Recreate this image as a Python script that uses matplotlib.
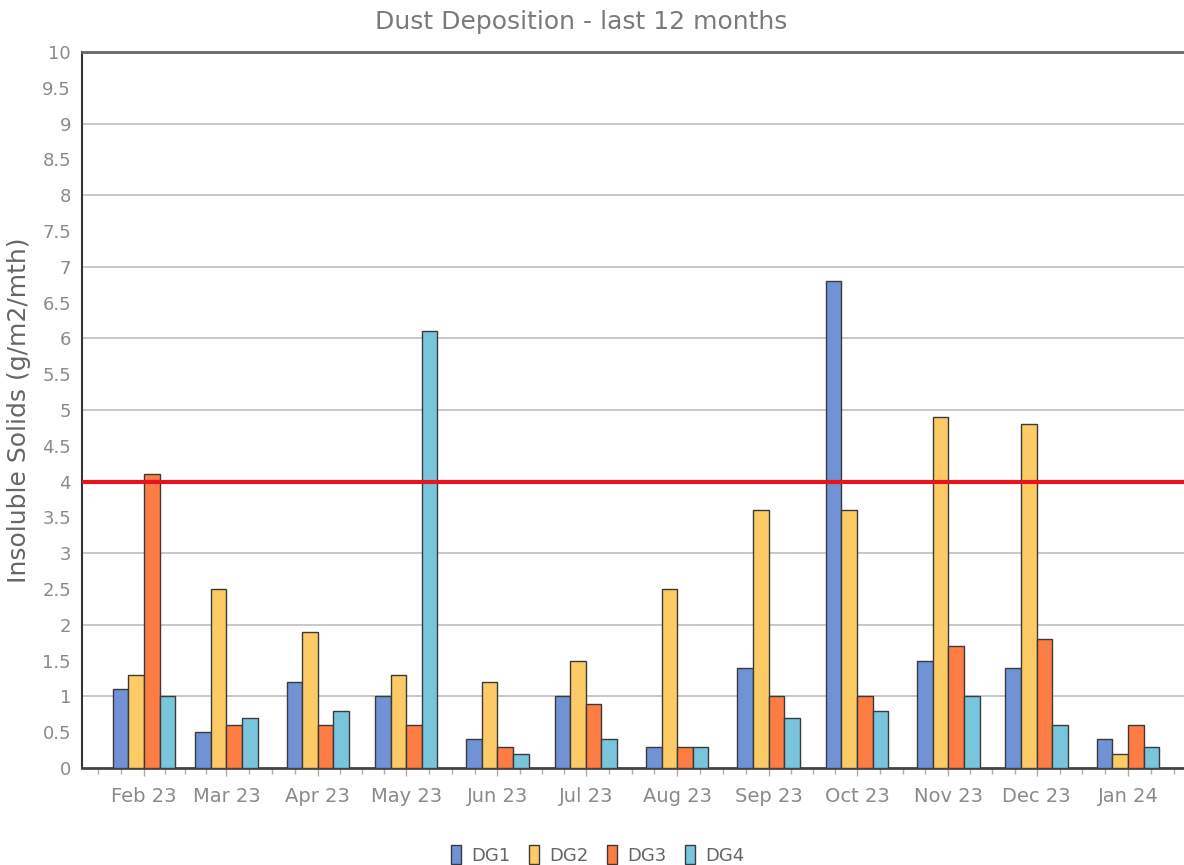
import matplotlib.pyplot as plt
import matplotlib.dates as mdates
import numpy as np
import pandas as pd

months = ["Feb 23", "Mar 23", "Apr 23", "May 23", "Jun 23", "Jul 23",
          "Aug 23", "Sep 23", "Oct 23", "Nov 23", "Dec 23", "Jan 24"]
month_starts = pd.date_range("2023-02-01", periods=12, freq="MS")

dg1 = [1.1, 0.5, 1.2, 1.0, 0.4, 1.0, 0.3, 1.4, 6.8, 1.5, 1.4, 0.4]
dg2 = [1.3, 2.5, 1.9, 1.3, 1.2, 1.5, 2.5, 3.6, 3.6, 4.9, 4.8, 0.2]
dg3 = [4.1, 0.6, 0.6, 0.6, 0.3, 0.9, 0.3, 1.0, 1.0, 1.7, 1.8, 0.6]
dg4 = [1.0, 0.7, 0.8, 6.1, 0.2, 0.4, 0.3, 0.7, 0.8, 1.0, 0.6, 0.3]
series = {"DG1": dg1, "DG2": dg2, "DG3": dg3, "DG4": dg4}
colors = ["#7193d6", "#fdcb66", "#fd7d45", "#79c5dc"]
limit = 4

fig = plt.figure(figsize=(11.84, 8.65), dpi=100)
ax = fig.add_axes([0.0693, 0.1121, 0.9307, 0.8278])

x = mdates.date2num(month_starts)
bw = 5.3  # bar width in days
for i, (name, vals) in enumerate(series.items()):
    ax.bar(x + (i - 1.5) * bw, vals, width=bw, color=colors[i],
           edgecolor="#3a3a3a", linewidth=1.0, label=name, zorder=3)

ax.axhline(limit, color="#e8141c", linewidth=3, zorder=4)

ax.set_yticks(np.arange(0, 10.01, 0.5))
ax.set_yticklabels([f"{v:g}" for v in np.arange(0, 10.01, 0.5)])
ax.set_ylim(0, 10)
for v in range(1, 10):
    ax.axhline(v, color="#c4c4c4", linewidth=1.3, zorder=1)

ax.set_xticks(x)
ax.set_xticklabels(months)
# quarter-month minor ticks
edges = mdates.date2num(pd.date_range("2023-01-01", periods=14, freq="MS"))
minor = []
for a, b in zip(edges[:-1], edges[1:]):
    minor += [a + (b - a) * q for q in (0.25, 0.5, 0.75)]
ax.set_xticks(minor, minor=True)
ax.set_xlim(mdates.date2num(pd.Timestamp("2023-01-11")),
            mdates.date2num(pd.Timestamp("2024-01-20")))

ax.tick_params(axis="y", length=0, pad=8, labelsize=13, labelcolor="#8a8a8a")
ax.tick_params(axis="x", which="major", length=6, width=1, color="#aaaaaa",
               pad=8, labelsize=14, labelcolor="#8a8a8a")
ax.tick_params(axis="x", which="minor", length=4, width=1, color="#aaaaaa")

ax.spines["right"].set_visible(False)
ax.spines["left"].set_color("#333333")
ax.spines["left"].set_linewidth(1.5)
ax.spines["top"].set_color("#666666")
ax.spines["top"].set_linewidth(2)
ax.spines["bottom"].set_color("#444444")
ax.spines["bottom"].set_linewidth(2)

ax.set_ylabel("Insoluble Solids (g/m2/mth)", fontsize=18, color="#666666", labelpad=8)
fig.text(0.491, 0.974, "Dust Deposition - last 12 months", ha="center", va="center",
         fontsize=18, color="#7a7a7a")

fig.legend(loc="center", bbox_to_anchor=(0.505, 0.012), ncol=4, frameon=False,
           fontsize=13, handlelength=0.55, handleheight=1.3, handletextpad=0.6,
           columnspacing=1.0, labelcolor="#666666")

fig.savefig("out.png", dpi=100)
